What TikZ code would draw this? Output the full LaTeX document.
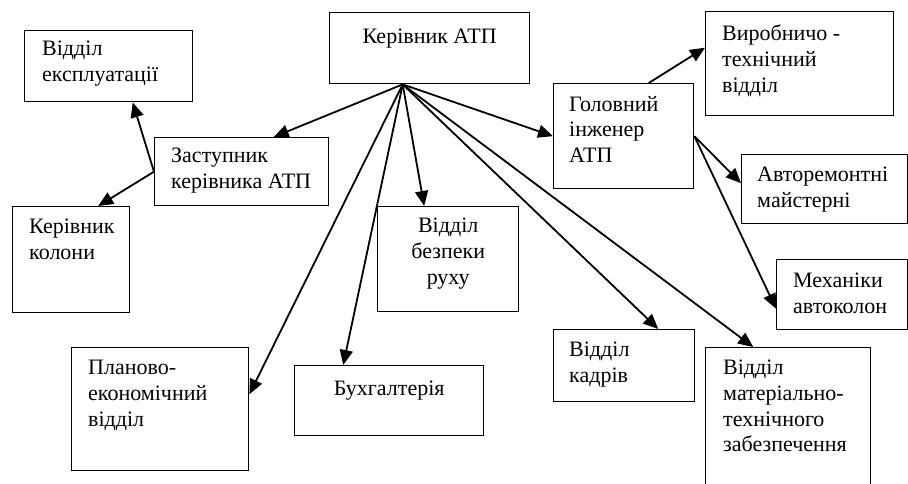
\documentclass[tikz,border=0pt]{standalone}
\usepackage{fontspec}
\setmainfont{Liberation Serif}
\usepackage{tikz}
\usetikzlibrary{arrows.meta,positioning}

\begin{document}
\begin{tikzpicture}[
    x=1pt, y=-1pt,
    box/.style={draw, line width=1.4pt, anchor=north west, inner sep=0pt},
    txt/.style={font=\fontsize{22}{25.7}\selectfont, align=left, anchor=north west,
                inner sep=0pt, execute at begin node=\strut},
    ctxt/.style={txt, align=center, anchor=north},
    arrow/.style={-{Triangle[length=15pt, width=13pt]}, line width=1.8pt}
  ]
    \useasboundingbox (0,0) rectangle (908,483);

    % boxes
    \node[box, minimum width=200pt, minimum height=71pt] (chief) at (329,12) {};
    \node[box, minimum width=168pt, minimum height=71pt] (exp) at (24,30) {};
    \node[box, minimum width=174pt, minimum height=68pt] (dep) at (154,137) {};
    \node[box, minimum width=117pt, minimum height=106pt] (kol) at (12,206) {};
    \node[box, minimum width=141pt, minimum height=105pt] (bez) at (377,206) {};
    \node[box, minimum width=177pt, minimum height=123pt] (plan) at (71,347) {};
    \node[box, minimum width=189pt, minimum height=70pt] (buh) at (294,365) {};
    \node[box, minimum width=140pt, minimum height=105pt] (hol) at (553,83) {};
    \node[box, minimum width=188pt, minimum height=104pt] (vyr) at (705,11) {};
    \node[box, minimum width=166pt, minimum height=69pt] (avt) at (741,154) {};
    \node[box, minimum width=131pt, minimum height=70pt] (mex) at (776,259) {};
    \node[box, minimum width=141pt, minimum height=72pt] (kad) at (553,329) {};
    \node[box, minimum width=165pt, minimum height=150pt] (mat) at (705,347) {};

    % texts
    \node[ctxt] (chief-t) at ([yshift=-13pt]chief.north) {Керівник АТП};
    \node[txt] (exp-t) at ([shift={(18pt,-11pt)}]exp.north west) {Відділ\\експлуатації};
    \node[txt] (dep-t) at ([shift={(17pt,-11pt)}]dep.north west) {Заступник\\керівника АТП};
    \node[txt] (kol-t) at ([shift={(17pt,-13pt)}]kol.north west) {Керівник\\колони};
    \node[ctxt] (bez-t) at ([yshift=-12pt]bez.north) {Відділ\\безпеки\\руху};
    \node[txt] (plan-t) at ([shift={(17pt,-13pt)}]plan.north west) {Планово-\\економічний\\відділ};
    \node[ctxt] (buh-t) at ([yshift=-12pt]buh.north) {Бухгалтерія};
    \node[txt] (hol-t) at ([shift={(16pt,-13pt)}]hol.north west) {Головний\\інженер\\АТП};
    \node[txt] (vyr-t) at ([shift={(17pt,-14pt)}]vyr.north west) {Виробничо -\\технічний\\відділ};
    \node[txt] (avt-t) at ([shift={(16pt,-13pt)}]avt.north west) {Авторемонтні\\майстерні};
    \node[txt] (mex-t) at ([shift={(17pt,-14pt)}]mex.north west) {Механіки\\автоколон};
    \node[txt] (kad-t) at ([shift={(16pt,-13pt)}]kad.north west) {Відділ\\кадрів};
    \node[txt] (mat-t) at ([shift={(18pt,-13pt)}]mat.north west) {Відділ\\матеріально-\\технічного\\забезпечення};

    % connectors
    \coordinate (src) at ([xshift=-27pt]chief.south);
    \draw[arrow] (src) -- ([xshift=32pt]dep.north);
    \draw[arrow] (src) -- ([yshift=15pt]plan.east);
    \draw[arrow] (src) -- ([xshift=-46pt]buh.north);
    \draw[arrow] (src) -- ([xshift=-24pt]bez.north);
    \draw[arrow] (src) -- (hol.west);
    \draw[arrow] (src) -- ([xshift=34pt]kad.north);
    \draw[arrow] (src) -- ([xshift=-35pt]mat.north);
    \draw[arrow] ([xshift=25pt]hol.north) -- ([yshift=16pt]vyr.west);
    \draw[arrow] (hol.east) -- ([yshift=6pt]avt.west);
    \draw[arrow] (hol.east) -- ([yshift=-14pt]mex.west);
    \draw[arrow] (dep.west) -- ([xshift=24pt]exp.south);
    \draw[arrow] (dep.west) -- ([xshift=27pt]kol.north);
  \end{tikzpicture}
\end{document}
